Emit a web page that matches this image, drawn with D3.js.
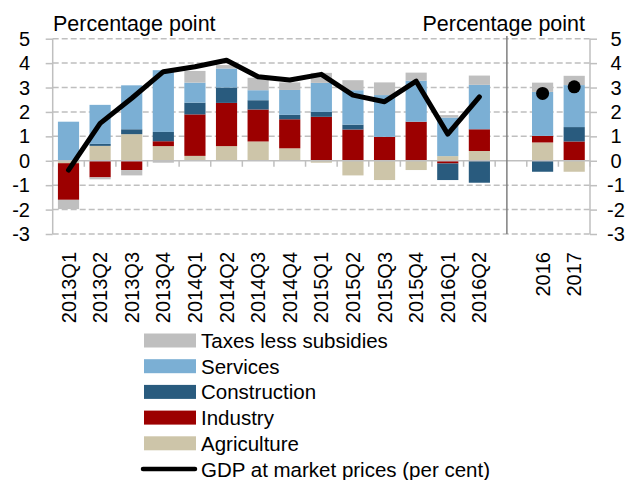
<!DOCTYPE html>
<html><head><meta charset="utf-8">
<script src="https://cdn.jsdelivr.net/npm/d3@7"></script>
<style>body{margin:0;background:#fff}svg{display:block;font-family:"Liberation Sans",Arial,sans-serif}</style>
</head><body><svg id="c" width="633" height="480"></svg>
<script>
const categories = ["2013Q1","2013Q2","2013Q3","2013Q4","2014Q1","2014Q2","2014Q3","2014Q4","2015Q1","2015Q2","2015Q3","2015Q4","2016Q1","2016Q2","gap","2016","2017"];
const agriculture  = [-0.10, 0.61, 1.09, 0.60, 0.20, 0.60, 0.79, 0.51, -0.08, -0.60, -0.79, -0.38, 0.19, 0.40, 0, 0.75, -0.45];
const industry     = [-1.50,-0.68,-0.38, 0.20, 1.70, 1.77, 1.31, 1.19, 1.80, 1.28, 0.98, 1.60, -0.11, 0.89, 0, 0.27, 0.79];
const construction = [ 0.00, 0.08, 0.20, 0.38, 0.48, 0.63, 0.38, 0.18, 0.20, 0.20, 0.00, 0.00, -0.68, -0.90, 0, -0.45, 0.59];
const services     = [ 1.60, 1.60, 1.80, 2.53, 0.82, 0.78, 0.41, 1.02, 1.19, 1.41, 1.71, 1.68, 1.58, 1.82, 0, 1.80, 1.72];
const taxes        = [-0.38,-0.08,-0.22,-0.08, 0.48, 0.14, 0.51, 0.31, 0.41, 0.41, 0.52, 0.33, 0.10, 0.38, 0, 0.38, 0.38];
const gdpQuarterly = [-0.38, 1.53, 2.56, 3.65, 3.85, 4.12, 3.44, 3.31, 3.54, 2.69, 2.42, 3.26, 1.09, 2.62];
const gdpAnnualCats = ["2016","2017"];
const gdpAnnual = [2.76, 3.03];
const yTicks = [-3,-2,-1,0,1,2,3,4,5];
const seriesNames = ["Agriculture","Industry","Construction","Services","Taxes less subsidies"];
const seriesColors = ["#CDC5A9","#9C0000","#295B7E","#7BAFD4","#BFBFBF"];
const yTitle = "Percentage point";
const lineLabel = "GDP at market prices (per cent)";

const svg = d3.select("#c");
const X0 = 52.7, X1 = 590, YT = 38.7, YB = 234;
const x = d3.scaleBand().domain(categories).range([X0, X1]).paddingInner(0.33).paddingOuter(0.165);
const y = d3.scaleLinear().domain([-3,5]).range([YB, YT]);
const step = x.step();

const table = categories.map((c,i)=>({cat:c, Agriculture:agriculture[i], Industry:industry[i], Construction:construction[i], Services:services[i], "Taxes less subsidies":taxes[i]}));
const stacks = d3.stack().keys(seriesNames).offset(d3.stackOffsetDiverging)(table);

// gridlines
const gridColor = "#BFBFBF";
svg.append("g").selectAll("line").data(yTicks.filter(t=>t!==0)).join("line")
  .attr("x1", X0).attr("x2", X1).attr("y1", d=>y(d)).attr("y2", d=>y(d))
  .attr("stroke", gridColor).attr("stroke-width", 1.5).attr("stroke-dasharray", "6,3");

// left and right axes
const lAxis = svg.append("g").attr("transform", `translate(${X0},0)`)
  .call(d3.axisLeft(y).tickValues(yTicks).tickSize(7).tickFormat(""));
const rAxis = svg.append("g").attr("transform", `translate(${X1},0)`)
  .call(d3.axisRight(y).tickValues(yTicks).tickSize(7).tickFormat(""));
[lAxis, rAxis].forEach(g=>{ g.selectAll("path,line").attr("stroke", gridColor).attr("stroke-width", 1.5); });
lAxis.select(".domain").remove(); rAxis.select(".domain").remove();
svg.append("line").attr("x1",X0).attr("x2",X0).attr("y1",YT).attr("y2",YB).attr("stroke",gridColor).attr("stroke-width",1.5);
svg.append("line").attr("x1",X1).attr("x2",X1).attr("y1",YT).attr("y2",YB).attr("stroke",gridColor).attr("stroke-width",1.5);

// y labels
svg.append("g").selectAll("text").data(yTicks).join("text")
  .attr("x", 30).attr("y", d=>y(d)).attr("text-anchor","end").attr("dominant-baseline","central")
  .attr("font-size", 20).attr("fill","#000").text(d=>d);
svg.append("g").selectAll("text").data(yTicks).join("text")
  .attr("x", 616).attr("y", d=>y(d)).attr("text-anchor","middle").attr("dominant-baseline","central")
  .attr("font-size", 20).attr("fill","#000").text(d=>d);

// bars
svg.append("g").selectAll("g").data(stacks).join("g")
  .attr("fill", (d,i)=>seriesColors[i])
  .selectAll("rect").data(d=>d.filter(p=>p.data.cat!=="gap")).join("rect")
  .attr("x", d=>x(d.data.cat)).attr("width", x.bandwidth())
  .attr("y", d=>y(Math.max(d[0],d[1]))).attr("height", d=>Math.abs(y(d[0])-y(d[1])));

// zero axis line with category ticks
const zeroY = y(0);
svg.append("line").attr("x1",X0).attr("x2",X1).attr("y1",zeroY).attr("y2",zeroY).attr("stroke",gridColor).attr("stroke-width",1.5);
const bounds = categories.map(c=>x(c) - x.paddingInner()*step/2).concat([X1]);
svg.append("g").selectAll("line").data(bounds).join("line")
  .attr("x1",d=>d).attr("x2",d=>d).attr("y1",zeroY).attr("y2",zeroY+6)
  .attr("stroke",gridColor).attr("stroke-width",1.5);

// separator
const sepX = x("gap") - x.paddingInner()*step/2 + step*0.37;
svg.append("line").attr("x1",sepX).attr("x2",sepX).attr("y1",36).attr("y2",YB).attr("stroke","#7F7F7F").attr("stroke-width",1.5);

// GDP line
const line = d3.line().x((d,i)=>x(categories[i]) + x.bandwidth()/2).y(d=>y(d));
svg.append("path").datum(gdpQuarterly).attr("d", line).attr("fill","none").attr("stroke","#000")
  .attr("stroke-width",5).attr("stroke-linejoin","round").attr("stroke-linecap","round");
svg.append("g").selectAll("circle").data(gdpAnnual).join("circle")
  .attr("cx",(d,i)=>x(gdpAnnualCats[i])+x.bandwidth()/2).attr("cy",d=>y(d)).attr("r",6.5).attr("fill","#000");

// x labels
svg.append("g").selectAll("text").data(categories.filter(c=>c!=="gap")).join("text")
  .attr("transform", d=>`translate(${x(d)+x.bandwidth()/2},252) rotate(-90)`)
  .attr("text-anchor","end").attr("dominant-baseline","central").attr("font-size",20).attr("fill","#000").text(d=>d);

// titles
svg.append("text").attr("x",53).attr("y",31).attr("font-size",21.5).attr("fill","#000").text(yTitle);
svg.append("text").attr("x",585).attr("y",31).attr("text-anchor","end").attr("font-size",21.5).attr("fill","#000").text(yTitle);

// legend
const legendItems = seriesNames.slice().reverse().map(n=>({name:n, color:seriesColors[seriesNames.indexOf(n)]}));
const lg = svg.append("g");
const rowY = i=>340.5 + i*25.7;
legendItems.forEach((it,i)=>{
  lg.append("rect").attr("x",144).attr("y",rowY(i)-7).attr("width",52).attr("height",14).attr("fill",it.color);
  lg.append("text").attr("x",201).attr("y",rowY(i)).attr("dominant-baseline","central").attr("font-size",20.5).attr("fill","#000").text(it.name);
});
lg.append("line").attr("x1",143).attr("x2",195).attr("y1",rowY(5)).attr("y2",rowY(5)).attr("stroke","#000").attr("stroke-width",4.5).attr("stroke-linecap","round");
lg.append("text").attr("x",201).attr("y",rowY(5)).attr("dominant-baseline","central").attr("font-size",20.5).attr("fill","#000").text(lineLabel);
</script></body></html>
